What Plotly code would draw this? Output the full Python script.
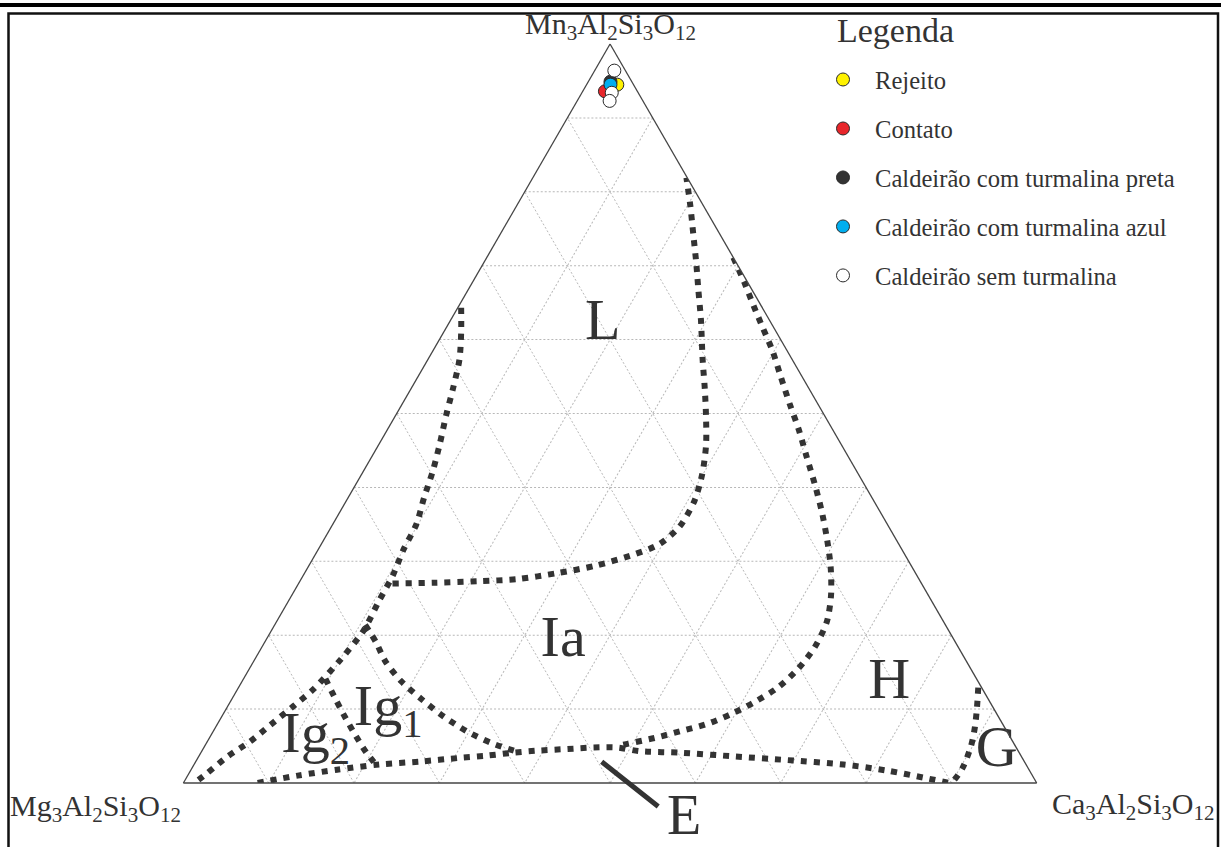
import plotly.graph_objects as go

# ---------------- sample compositions (% end-members) ----------------
rejeito_mn, rejeito_ca = [94.5], [3.6]
contato_mn, contato_ca = [93.6], [2.6]
preta_mn, preta_ca = [94.9], [2.6]
azul_mn, azul_ca = [94.5], [2.8]
sem_mn, sem_ca = [96.4, 93.4, 92.3], [2.3, 3.5, 3.8]

# ---------------- field boundaries (Mn %, Ca %) ----------------
bound_ig_l_mn = [64.3, 60.9, 57.3, 53.4, 49.8, 45.9, 42.3, 38.6, 35.0, 31.6, 28.1,
                 24.7, 20.6, 16.8, 12.7, 10.4, 7.9, 5.6, 3.6, 1.3, 0.2]
bound_ig_l_ca = [0.4, 2.1, 3.7, 4.9, 5.9, 7.1, 8.1, 8.9, 9.8, 10.0, 10.5,
                 10.6, 10.8, 10.1, 8.9, 7.7, 6.3, 5.0, 3.4, 2.1, 1.4]

bound_l_mn = [27.0, 27.1, 27.3, 27.6, 28.4, 29.4, 30.9, 32.3, 34.7, 38.2, 41.8,
              45.7, 49.5, 53.4, 57.3, 62.7, 66.7, 70.4, 74.3, 78.2, 81.9]
bound_l_ca = [11.0, 16.1, 20.9, 25.4, 29.6, 33.6, 37.3, 39.6, 40.8, 40.8, 39.9,
              38.4, 36.5, 34.4, 32.2, 29.3, 27.0, 24.9, 22.6, 20.3, 18.0]

bound_h_mn = [71.1, 67.7, 64.5, 61.6, 58.6, 55.0, 51.3, 47.7, 44.1, 40.4, 36.8, 33.2,
              29.3, 25.4, 21.8, 18.4, 15.4, 12.9, 10.9, 9.3, 7.9, 7.0, 6.1, 5.3, 5.0]
bound_h_ca = [28.9, 31.9, 34.6, 37.1, 39.7, 42.5, 45.4, 48.3, 51.0, 53.8, 56.4, 58.8,
              61.2, 63.2, 64.5, 64.8, 64.3, 63.2, 61.4, 59.5, 57.2, 54.7, 52.2, 49.4, 48.4]

bound_base_mn = [0.0, 1.0, 1.8, 2.5, 2.9, 3.4, 3.7, 4.1, 4.4, 4.6, 4.8, 4.8, 4.3, 4.1,
                 3.6, 3.1, 2.5, 1.7, 0.7, 0.0]
bound_base_ca = [8.7, 12.9, 17.1, 21.7, 26.3, 30.7, 33.7, 36.6, 39.6, 42.7, 45.7, 48.5,
                 51.3, 56.2, 62.7, 69.2, 76.1, 81.5, 86.5, 89.8]

bound_ia_mn = [21.4, 19.1, 16.5, 13.8, 11.3, 9.0, 7.0, 5.4, 4.3]
bound_ia_ca = [10.6, 13.0, 15.4, 18.6, 22.3, 26.0, 29.7, 33.4, 36.8]

bound_ig_mn = [14.1, 11.3, 8.8, 6.3, 4.1, 2.5]
bound_ig_ca = [9.6, 12.2, 14.6, 17.1, 19.4, 21.3]

bound_g_mn = [12.9, 10.2, 7.5, 5.0, 2.0, 0.2]
bound_g_ca = [86.7, 87.9, 89.0, 89.8, 90.3, 90.1]

# ---------------- field labels ----------------
field_names = ["L", "Ia", "Ig<sub>1</sub>", "Ig<sub>2</sub>", "H", "G"]
field_mn = [62.1, 19.2, 9.8, 6.2, 13.4, 4.2]
field_ca = [18.1, 34.9, 19.1, 12.4, 76.0, 93.2]

W, H = 1224, 847
SERIF = "Liberation Serif, Times New Roman, serif"
INK = "#333333"


def px(x):
    return x / W


def py(y):
    return 1 - y / H


fig = go.Figure()

# boundaries
for mn, ca in [(bound_ig_l_mn, bound_ig_l_ca), (bound_l_mn, bound_l_ca),
               (bound_h_mn, bound_h_ca), (bound_base_mn, bound_base_ca),
               (bound_ia_mn, bound_ia_ca), (bound_ig_mn, bound_ig_ca),
               (bound_g_mn, bound_g_ca)]:
    fig.add_trace(go.Scatterternary(
        a=mn, c=ca, mode="lines", showlegend=False, hoverinfo="skip",
        line=dict(color=INK, width=6, dash="6px,7px", shape="spline", smoothing=0.8)))

# field labels
fig.add_trace(go.Scatterternary(
    a=field_mn, c=field_ca, mode="text", text=field_names, showlegend=False,
    hoverinfo="skip", cliponaxis=False,
    textfont=dict(family=SERIF, size=58, color=INK)))

# samples
samples = [
    ("Rejeito", rejeito_mn, rejeito_ca, "#FFF200"),
    ("Contato", contato_mn, contato_ca, "#E8262B"),
    ("Caldeirão com turmalina preta", preta_mn, preta_ca, "#333333"),
    ("Caldeirão com turmalina azul", azul_mn, azul_ca, "#00AEEF"),
    ("Caldeirão sem turmalina", sem_mn, sem_ca, "#FFFFFF"),
]
for i, (name, mn, ca, col) in enumerate(samples):
    fig.add_trace(go.Scatterternary(
        a=mn, c=ca, mode="markers", name=name, legendgroup=f"g{i}",
        cliponaxis=False,
        marker=dict(size=13, color=col, line=dict(color="#2a2a2a", width=1))))

axis_common = dict(min=0, dtick=10, showticklabels=False, ticks="",
                   showgrid=True, gridcolor="#b8b8b8", gridwidth=1, griddash="2px,2px",
                   linecolor="#444444", linewidth=1.3, title=dict(text=""))

fig.update_layout(
    width=W, height=H,
    margin=dict(l=0, r=0, t=0, b=0),
    paper_bgcolor="white",
    plot_bgcolor="white",
    ternary=dict(
        sum=100,
        bgcolor="white",
        domain=dict(x=[183.4 / W, 1036.7 / W], y=[py(783), py(44)]),
        aaxis=axis_common, baxis=axis_common, caxis=axis_common,
    ),
    showlegend=True,
    legend=dict(
        x=px(811), y=py(57), xanchor="left", yanchor="top",
        font=dict(family=SERIF, size=24.6, color=INK),
        itemwidth=54, tracegroupgap=14, traceorder="grouped",
        bgcolor="rgba(0,0,0,0)", borderwidth=0,
    ),
)

annotations = [
    dict(text="Legenda", x=px(835), y=py(31), xanchor="left", yanchor="middle",
         font=dict(family=SERIF, size=34, color=INK)),
    dict(text="Mn<sub>3</sub>Al<sub>2</sub>Si<sub>3</sub>O<sub>12</sub>",
         x=px(610), y=py(26), xanchor="center", yanchor="middle",
         font=dict(family=SERIF, size=30, color=INK)),
    dict(text="Mg<sub>3</sub>Al<sub>2</sub>Si<sub>3</sub>O<sub>12</sub>",
         x=px(8), y=py(808), xanchor="left", yanchor="middle",
         font=dict(family=SERIF, size=30, color=INK)),
    dict(text="Ca<sub>3</sub>Al<sub>2</sub>Si<sub>3</sub>O<sub>12</sub>",
         x=px(1050), y=py(806), xanchor="left", yanchor="middle",
         font=dict(family=SERIF, size=30, color=INK)),
    dict(text="E", x=px(684), y=py(815), xanchor="center", yanchor="middle",
         font=dict(family=SERIF, size=56, color=INK)),
    dict(text="", x=px(601.7), y=py(761.7), ax=58, ay=46, showarrow=True,
         arrowhead=0, arrowwidth=5, arrowcolor=INK, standoff=0, startstandoff=0),
]
for a in annotations:
    a.setdefault("showarrow", False)
    a["xref"] = "paper"
    a["yref"] = "paper"
fig.update_layout(annotations=annotations)

fig.update_layout(shapes=[
    dict(type="line", xref="paper", yref="paper", x0=0, x1=px(1221),
         y0=py(5), y1=py(5), line=dict(color="black", width=4)),
    dict(type="rect", xref="paper", yref="paper", x0=px(8.5), x1=px(1218),
         y0=py(860), y1=py(13.5), line=dict(color="#111111", width=2.5)),
])

fig.write_html("out.html", config={"displayModeBar": False},
               post_script="document.body.style.margin='0';document.body.style.overflow='hidden';")
